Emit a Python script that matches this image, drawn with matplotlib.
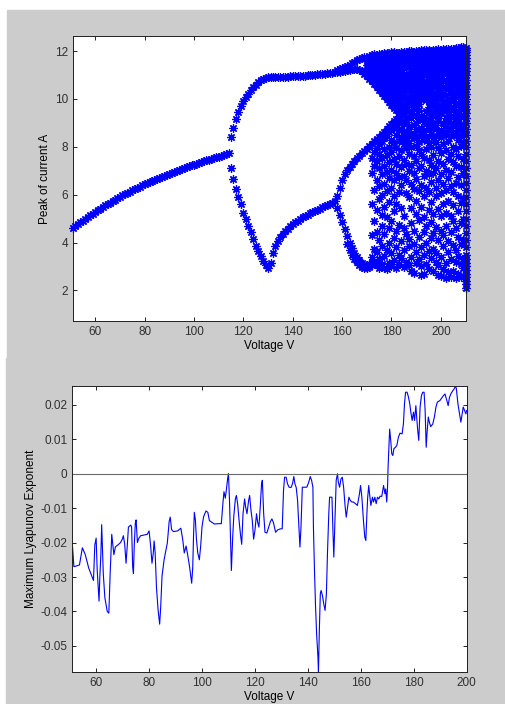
import numpy as np #arrays
import matplotlib.pyplot as plt #plotting
from matplotlib.patches import Rectangle

plt.rcParams['font.family'] = ['Liberation Sans', 'DejaVu Sans']
plt.rcParams['axes.unicode_minus'] = False

# ---- bifurcation diagram: peak current vs voltage ----
# period-1 branch
p1_v = np.arange(51, 115)
p1_i = [4.61, 4.69, 4.77, 4.85, 4.92, 5.00, 5.07, 5.14, 5.21, 5.28,
        5.35, 5.42, 5.48, 5.55, 5.61, 5.67, 5.73, 5.79, 5.85, 5.91,
        5.97, 6.02, 6.08, 6.13, 6.18, 6.24, 6.29, 6.34, 6.39, 6.44,
        6.49, 6.53, 6.58, 6.62, 6.67, 6.71, 6.75, 6.80, 6.84, 6.88,
        6.92, 6.96, 7.00, 7.04, 7.08, 7.11, 7.15, 7.19, 7.22, 7.26,
        7.29, 7.33, 7.36, 7.40, 7.43, 7.46, 7.50, 7.53, 7.56, 7.59,
        7.62, 7.66, 7.70, 7.76]

# period-2, upper and lower branches
p2_v = np.arange(115, 158)
p2_hi = [8.41, 8.80, 9.15, 9.45, 9.70, 9.93, 10.08, 10.22, 10.36, 10.48,
         10.60, 10.70, 10.78, 10.84, 10.88, 10.90, 10.90, 10.90, 10.91, 10.91,
         10.92, 10.92, 10.93, 10.93, 10.94, 10.94, 10.95, 10.96, 10.96, 10.97,
         10.98, 10.99, 11.00, 11.01, 11.02, 11.03, 11.04, 11.05, 11.06, 11.07,
         11.08, 11.10, 11.12]
p2_lo = [7.12, 6.65, 6.25, 5.90, 5.60, 5.25, 4.97, 4.70, 4.42, 4.14,
         3.87, 3.63, 3.42, 3.22, 3.05, 2.95, 3.15, 3.55, 3.85, 4.05,
         4.22, 4.36, 4.48, 4.58, 4.68, 4.77, 4.85, 4.92, 4.99, 5.05,
         5.11, 5.17, 5.22, 5.27, 5.32, 5.37, 5.42, 5.47, 5.52, 5.57,
         5.62, 5.67, 5.73]

# period-4 region
top_v = np.arange(158, 170)
top_i = [11.20, 11.24, 11.28, 11.33, 11.38, 11.44, 11.50, 11.56, 11.62, 11.67,
         11.72, 11.76]
fall_v = np.arange(158, 184)
fall_i = [11.12, 11.14, 11.16, 11.18, 11.20, 11.22, 11.24, 11.25, 11.25, 11.22,
          11.15, 11.05, 10.95, 10.85, 10.75, 10.62, 10.50, 10.38, 10.25, 10.12,
          10.00, 9.88, 9.76, 9.64, 9.52, 9.40]
rise_v = np.arange(158, 184)
rise_i = [5.95, 6.30, 6.60, 6.85, 7.02, 7.17, 7.30, 7.42, 7.53, 7.63,
          7.73, 7.83, 7.93, 8.03, 8.13, 8.23, 8.33, 8.43, 8.53, 8.63,
          8.74, 8.85, 8.96, 9.07, 9.18, 9.30]
dip_v = np.arange(158, 173)
dip_i = [5.45, 5.15, 4.85, 4.55, 4.27, 4.00, 3.78, 3.57, 3.40, 3.25,
         3.13, 3.06, 3.05, 3.10, 3.20]
dip2_v = np.arange(162, 174)
dip2_i = [3.95, 3.70, 3.50, 3.32, 3.17, 3.05, 2.97, 2.93, 2.93, 2.97,
          3.05, 3.15]

# chaotic band, one list of peaks per voltage
chaos_v = list(range(170, 210))
chaos_hi = [
    [11.12, 11.28, 11.42, 11.58, 11.72],
    [11.0, 11.18, 11.33, 11.5, 11.64, 11.78],
    [10.9, 11.05, 11.22, 11.4, 11.55, 11.7, 11.82],
    [10.78, 10.95, 11.12, 11.3, 11.46, 11.62, 11.76, 11.86],
    [10.66, 10.85, 11.0, 11.2, 11.38, 11.55, 11.7, 11.84],
    [10.55, 10.72, 10.92, 11.1, 11.28, 11.48, 11.64, 11.8, 11.9],
    [10.42, 10.6, 10.8, 11.02, 11.18, 11.4, 11.58, 11.74, 11.88],
    [10.3, 10.5, 10.68, 10.9, 11.1, 11.3, 11.52, 11.7, 11.85, 11.93],
    [10.18, 10.38, 10.6, 10.8, 11.0, 11.22, 11.45, 11.62, 11.8, 11.92],
    [10.05, 10.25, 10.48, 10.7, 10.92, 11.15, 11.38, 11.58, 11.76, 11.9],
    [9.92, 10.12, 10.35, 10.6, 10.82, 11.05, 11.3, 11.52, 11.72, 11.88, 11.96],
    [9.8, 10.02, 10.25, 10.5, 10.72, 10.98, 11.22, 11.45, 11.66, 11.84, 11.95],
    [9.68, 9.9, 10.15, 10.4, 10.65, 10.9, 11.15, 11.4, 11.62, 11.8, 11.94],
    [9.55, 9.78, 10.02, 10.28, 10.55, 10.8, 11.08, 11.32, 11.56, 11.76, 11.92],
    [8.75, 9.1, 9.45, 9.7, 10.05, 10.3, 10.7, 10.95, 11.2, 11.5, 11.7, 11.85, 11.97],
    [8.6, 8.95, 9.35, 9.8, 10.15, 10.45, 10.6, 10.9, 11.3, 11.55, 11.78, 11.95],
    [8.5, 9.05, 9.25, 9.6, 9.95, 10.35, 10.8, 11.05, 11.4, 11.62, 11.84, 11.98],
    [8.65, 8.85, 9.5, 9.75, 10.1, 10.5, 10.65, 10.95, 11.45, 11.7, 11.88, 12.0],
    [8.45, 9.2, 9.4, 9.9, 10.25, 10.4, 10.75, 11.1, 11.25, 11.5, 11.75, 11.9, 12.02],
    [8.55, 8.9, 9.6, 9.85, 10.2, 10.55, 10.85, 11.15, 11.35, 11.6, 11.8, 11.95],
    [8.35, 8.75, 9.0, 9.35, 9.7, 10.05, 10.45, 10.7, 11.0, 11.2, 11.45, 11.68, 11.9, 12.02],
    [8.7, 9.15, 9.55, 9.8, 10.15, 10.35, 10.8, 10.95, 11.3, 11.55, 11.72, 11.88, 12.0],
    [8.5, 8.8, 9.3, 10.0, 10.25, 10.6, 10.9, 11.1, 11.4, 11.62, 11.8, 11.93, 12.04],
    [8.6, 9.05, 9.25, 10.05, 10.4, 10.65, 11.0, 11.25, 11.5, 11.75, 11.9, 12.05],
    [8.4, 8.95, 9.5, 9.95, 10.2, 10.55, 10.75, 11.05, 11.35, 11.6, 11.78, 11.94, 12.06],
    [8.75, 9.1, 9.4, 9.65, 9.9, 10.3, 10.5, 10.85, 11.15, 11.45, 11.65, 11.85, 12.05],
    [8.55, 9.2, 9.45, 9.8, 10.1, 10.4, 10.7, 11.0, 11.2, 11.5, 11.7, 11.88, 12.02],
    [8.8, 9.0, 9.35, 9.7, 10.05, 10.25, 10.6, 10.9, 11.1, 11.4, 11.62, 11.82, 11.96, 12.06],
    [8.45, 8.9, 9.55, 9.85, 10.2, 10.5, 10.8, 11.05, 11.3, 11.55, 11.75, 11.92, 12.04],
    [8.65, 9.1, 9.3, 9.65, 10.0, 10.35, 10.55, 10.95, 11.25, 11.48, 11.7, 11.88, 12.08],
    [8.4, 8.7, 9.4, 9.75, 10.1, 10.3, 10.65, 10.85, 11.15, 11.45, 11.68, 11.9, 12.06],
    [8.6, 9.0, 9.6, 9.9, 10.2, 10.5, 10.75, 11.1, 11.35, 11.6, 11.82, 11.98, 12.08],
    [8.5, 8.85, 9.2, 9.5, 9.8, 10.15, 10.45, 10.8, 11.05, 11.3, 11.55, 11.78, 11.96, 12.08],
    [8.7, 9.05, 9.35, 9.7, 10.0, 10.4, 10.6, 10.95, 11.2, 11.45, 11.66, 11.86, 12.02, 12.1],
    [8.45, 8.8, 9.25, 9.55, 9.9, 10.25, 10.5, 10.85, 11.1, 11.38, 11.6, 11.8, 11.96, 12.08],
    [8.6, 9.0, 9.3, 9.65, 10.05, 10.3, 10.7, 11.0, 11.25, 11.5, 11.7, 11.86, 11.98, 12.1],
    [8.5, 8.9, 9.15, 9.5, 9.85, 10.2, 10.55, 10.8, 11.15, 11.4, 11.58, 11.74, 11.88, 12.0, 12.12],
    [8.7, 9.05, 9.4, 9.75, 10.1, 10.35, 10.65, 10.95, 11.25, 11.48, 11.64, 11.8, 11.94, 12.06, 12.14],
    [8.45, 8.85, 9.25, 9.6, 9.9, 10.2, 10.5, 10.85, 11.1, 11.4, 11.56, 11.72, 11.86, 11.98, 12.08, 12.16],
    [8.6, 8.95, 9.3, 9.7, 10.05, 10.4, 10.7, 11.0, 11.25, 11.44, 11.6, 11.74, 11.88, 12.0, 12.1, 12.18],
]
chaos_lo = [
    [],
    [],
    [3.4, 4.3, 5.6, 6.9, 7.55],
    [3.2, 3.75, 4.9, 6.2, 7.2, 7.8],
    [3.05, 3.6, 4.45, 5.35, 6.6, 7.4, 7.95],
    [2.95, 3.3, 4.1, 5.8, 6.35, 7.1, 7.7, 8.1],
    [3.1, 3.85, 4.7, 5.15, 6.0, 6.85, 7.55, 8.25],
    [2.92, 3.45, 4.35, 5.5, 6.45, 7.2, 7.9, 8.35],
    [2.88, 3.7, 5.05, 6.15, 6.95, 7.65, 8.45],
    [3.15, 4.0, 4.6, 5.7, 6.7, 7.35, 8.0, 8.6],
    [3.0, 3.55, 4.9, 6.3, 7.05, 7.8, 8.3, 8.7],
    [3.25, 4.2, 5.3, 5.95, 6.6, 7.5, 8.15, 8.8],
    [2.95, 3.8, 4.5, 5.6, 6.9, 7.3, 7.95, 8.5, 8.9],
    [3.1, 3.5, 4.75, 6.1, 6.75, 7.6, 8.25, 8.7, 9.05],
    [3.35, 4.05, 5.45, 6.4, 7.15, 7.85, 8.4],
    [2.98, 3.7, 4.6, 5.1, 6.8, 7.45, 8.1],
    [3.2, 4.35, 6.05, 6.6, 7.3, 7.95, 8.3],
    [3.05, 3.85, 4.15, 5.9, 7.0, 7.7, 8.15],
    [2.8, 3.4, 4.8, 5.45, 6.45, 7.25, 8.0],
    [2.72, 3.95, 4.5, 6.25, 6.9, 7.6, 8.35],
    [3.15, 3.6, 5.2, 5.75, 6.65, 7.4, 8.05],
    [3.3, 4.25, 4.95, 6.15, 7.1, 7.85, 8.2],
    [2.65, 3.0, 3.8, 5.5, 6.4, 7.2, 7.7],
    [2.7, 3.5, 4.45, 5.05, 5.95, 6.8, 7.55, 8.3],
    [3.1, 4.0, 4.7, 6.3, 7.0, 7.9],
    [2.9, 3.65, 5.35, 6.1, 6.85, 7.45, 8.15],
    [3.35, 4.2, 4.85, 5.7, 6.55, 7.25, 8.0],
    [2.8, 3.75, 4.4, 5.2, 6.9, 7.65, 8.35],
    [3.2, 3.55, 4.65, 5.95, 6.3, 7.1, 8.2],
    [2.65, 3.05, 4.1, 5.4, 6.6, 7.4, 7.95],
    [2.62, 3.4, 4.5, 5.1, 6.05, 6.85, 7.75],
    [2.9, 3.85, 4.3, 5.6, 6.45, 7.3, 8.1],
    [2.5, 3.15, 4.7, 5.25, 6.2, 7.05, 7.85],
    [2.78, 3.6, 4.05, 5.75, 6.7, 7.5, 8.25],
    [2.55, 3.3, 4.45, 5.1, 6.35, 6.95, 7.7],
    [2.82, 3.9, 4.9, 5.55, 6.1, 7.35, 8.0],
    [2.5, 3.2, 3.7, 4.6, 6.5, 7.2, 7.9],
    [2.7, 3.45, 4.25, 5.3, 5.95, 6.75, 7.6, 8.3],
    [2.58, 3.1, 3.95, 4.8, 5.65, 6.4, 7.15, 8.05],
    [2.6, 2.95, 3.3, 4.1, 5.0, 5.85, 6.9, 7.5, 8.2],
]
# last voltage step
edge_v = 210
edge_i = [2.1, 2.25, 2.4, 2.55, 2.7, 2.85, 3.0, 3.15, 3.3, 3.5, 3.8, 4.1, 4.4,
          4.7, 5.0, 5.3, 5.6, 5.9, 6.2, 6.5, 6.8, 7.1, 7.4, 7.7, 8.0, 8.25,
          8.5, 8.75, 9.0, 9.2, 9.4, 9.6, 9.8, 10.0, 10.2, 10.4, 10.6, 10.8,
          11.0, 11.15, 11.3, 11.45, 11.6, 11.72, 11.84, 11.95, 12.05, 12.15]

# ---- maximum Lyapunov exponent vs voltage ----
lyap_v = [51.1, 51.6, 53.7, 54.8, 55.9, 57.2, 59.0, 59.5, 60.0, 60.4, 60.9, 61.1,
          61.4, 61.8, 62.1, 62.7, 63.3, 64.2, 64.8, 65.3, 65.9, 66.7, 67.3, 68.2,
          69.2, 69.9, 70.3, 70.8, 71.3, 71.8, 72.2, 73.1, 73.4, 73.8, 74.1, 74.4,
          74.8, 75.1, 75.6, 76.1, 76.8, 78.1, 79.3, 80.0, 80.6, 81.1, 81.6, 81.9,
          82.3, 82.8, 83.4, 84.0, 84.4, 84.9, 85.7, 86.9, 87.6, 88.0, 88.5, 89.2,
          90.8, 92.0, 92.7, 93.3, 94.0, 94.6, 95.3, 96.1, 96.5, 96.8, 97.1, 97.5,
          97.9, 98.4, 99.0, 99.5, 100.0, 100.6, 101.5, 102.2, 102.8, 104.7, 106.0,
          107.3, 107.9, 108.3, 108.8, 109.2, 109.7, 110.0, 110.4, 110.8, 111.1,
          111.6, 112.0, 112.6, 113.0, 113.5, 114.0, 114.5, 115.0, 115.5, 116.1,
          116.5, 117.0, 117.6, 118.0, 118.5, 119.0, 119.5, 120.0, 120.6, 121.0,
          121.5, 122.0, 122.5, 122.8, 123.3, 123.8, 124.5, 125.2, 125.8, 126.4,
          127.0, 127.8, 128.6, 129.6, 130.3, 130.8, 131.2, 131.8, 132.3, 132.9,
          133.6, 134.2, 134.7, 135.1, 135.6, 136.1, 136.6, 137.0, 137.4, 137.9,
          138.4, 139.6, 140.3, 140.9, 141.4, 141.9, 142.1, 142.5, 142.9, 143.3,
          143.8, 144.0, 144.3, 144.7, 145.0, 145.5, 146.0, 146.5, 147.0, 147.4,
          147.9, 148.2, 149.1, 149.5, 149.8, 150.3, 150.7, 151.2, 151.5, 152.0,
          152.5, 153.0, 153.5, 154.1, 154.5, 155.0, 155.5, 156.0, 156.6, 157.2,
          158.0, 158.7, 159.5, 159.9, 160.4, 161.0, 161.5, 161.9, 162.3, 162.6,
          163.0, 163.3, 163.8, 164.4, 164.8, 165.3, 165.8, 166.3, 166.8, 167.3,
          167.9, 168.6, 169.1, 169.4, 169.8, 170.1, 170.3, 170.7, 170.9, 171.3,
          171.7, 172.1, 172.5, 173.1, 173.6, 174.2, 174.8, 175.6, 176.1, 176.5,
          176.9, 177.5, 178.0, 178.5, 178.9, 179.4, 179.9, 180.3, 180.8, 181.1,
          181.5, 181.9, 182.4, 182.9, 183.4, 183.9, 184.3, 184.7, 185.0, 185.5,
          185.9, 186.4, 187.2, 187.8, 188.4, 188.9, 189.9, 191.2, 191.8, 192.5,
          193.0, 193.5, 194.0, 194.8, 195.3, 195.8, 196.1, 196.7, 197.3, 197.8,
          198.2, 198.7, 199.2, 199.7, 200.0]
lyap = [-0.0214, -0.0270, -0.0265, -0.0215, -0.0235, -0.0274, -0.0310, -0.0207,
        -0.0187, -0.0279, -0.0341, -0.0370, -0.0300, -0.0232, -0.0148, -0.0290,
        -0.0360, -0.0400, -0.0405, -0.0290, -0.0176, -0.0235, -0.0212, -0.0207,
        -0.0200, -0.0190, -0.0180, -0.0205, -0.0260, -0.0205, -0.0155, -0.0149,
        -0.0155, -0.0270, -0.0290, -0.0210, -0.0144, -0.0134, -0.0200, -0.0188,
        -0.0180, -0.0178, -0.0176, -0.0166, -0.0210, -0.0260, -0.0230, -0.0195,
        -0.0230, -0.0330, -0.0395, -0.0437, -0.0386, -0.0297, -0.0249, -0.0201,
        -0.0138, -0.0126, -0.0162, -0.0168, -0.0166, -0.0158, -0.0190, -0.0230,
        -0.0210, -0.0236, -0.0270, -0.0318, -0.0272, -0.0180, -0.0112, -0.0134,
        -0.0190, -0.0230, -0.0250, -0.0210, -0.0154, -0.0125, -0.0108, -0.0112,
        -0.0136, -0.0146, -0.0145, -0.0145, -0.0086, -0.0052, -0.0071, -0.0047,
        -0.0013, 0.0000, -0.0080, -0.0200, -0.0281, -0.0184, -0.0125, -0.0073,
        -0.0063, -0.0090, -0.0135, -0.0174, -0.0205, -0.0116, -0.0073, -0.0097,
        -0.0116, -0.0078, -0.0063, -0.0106, -0.0136, -0.0190, -0.0165, -0.0116,
        -0.0140, -0.0155, -0.0097, -0.0029, -0.0019, -0.0116, -0.0170, -0.0172,
        -0.0155, -0.0140, -0.0131, -0.0142, -0.0170, -0.0163, -0.0160, -0.0160,
        -0.0048, -0.0010, -0.0010, -0.0029, -0.0039, -0.0040, -0.0029, -0.0008,
        -0.0029, -0.0040, -0.0077, -0.0155, -0.0213, -0.0155, -0.0039, -0.0039,
        -0.0039, -0.0025, -0.0008, -0.0019, -0.0039, -0.0155, -0.0281, -0.0387,
        -0.0465, -0.0532, -0.0576, -0.0465, -0.0349, -0.0339, -0.0354, -0.0378,
        -0.0397, -0.0349, -0.0232, -0.0116, -0.0068, -0.0068, -0.0174, -0.0242,
        -0.0116, -0.0019, 0.0000, -0.0024, -0.0039, -0.0015, -0.0010, -0.0039,
        -0.0097, -0.0126, -0.0097, -0.0068, -0.0077, -0.0082, -0.0082, -0.0087,
        -0.0092, -0.0058, -0.0034, -0.0068, -0.0136, -0.0184, -0.0194, -0.0116,
        -0.0068, -0.0034, -0.0058, -0.0092, -0.0068, -0.0082, -0.0068, -0.0087,
        -0.0068, -0.0073, -0.0065, -0.0066, -0.0034, -0.0058, -0.0044, -0.0082,
        -0.0039, 0.0019, 0.0097, 0.0130, 0.0097, 0.0058, 0.0053, 0.0073,
        0.0077, 0.0082, 0.0106, 0.0118, 0.0116, 0.0145, 0.0203, 0.0237,
        0.0237, 0.0223, 0.0203, 0.0179, 0.0155, 0.0179, 0.0155, 0.0198,
        0.0165, 0.0126, 0.0097, 0.0194, 0.0227, 0.0237, 0.0237, 0.0184,
        0.0077, 0.0116, 0.0165, 0.0150, 0.0137, 0.0145, 0.0165, 0.0194,
        0.0208, 0.0213, 0.0227, 0.0232, 0.0213, 0.0198, 0.0222, 0.0232,
        0.0242, 0.0247, 0.0256, 0.0247, 0.0203, 0.0174, 0.0150, 0.0170,
        0.0194, 0.0184, 0.0174, 0.0184]

volt_ticks = [60, 80, 100, 120, 140, 160, 180, 200]
peak_ticks = [2, 4, 6, 8, 10, 12]
lyap_ticks = [-0.05, -0.04, -0.03, -0.02, -0.01, 0, 0.01, 0.02]
lyap_labels = ['-0.05', '-0.04', '-0.03', '-0.02', '-0.01', '0', '0.01', '0.02']

GRAY = '#cccccc'


def style_axes(ax): #matlab-like box with inward ticks
    ax.tick_params(direction='in', top=True, right=True, length=3, width=0.6,
                   labelsize=8.5, pad=3.5, labelcolor='#303030')
    for s in ax.spines.values():
        s.set_linewidth(0.7)
        s.set_color('#202020')


def stars(ax, v, i): #asterisk markers like plot(...,'*')
    ax.plot(v, i, linestyle='none', marker=(8, 2, 0), markersize=6,
            markeredgecolor='blue', markeredgewidth=0.9, clip_on=False)


fig = plt.figure(figsize=(5.06, 7.04), dpi=100, facecolor='white')
# gray panels behind each axes
fig.add_artist(Rectangle((7 / 506, 346 / 704), 499 / 506, 348 / 704,
                         transform=fig.transFigure, color=GRAY, zorder=0))
fig.add_artist(Rectangle((6 / 506, 0), 500 / 506, 346 / 704,
                         transform=fig.transFigure, color=GRAY, zorder=0))

ax1 = fig.add_axes([0.1443, 0.5440, 0.7767, 0.4048])
stars(ax1, p1_v, p1_i)
stars(ax1, p2_v, p2_hi)
stars(ax1, p2_v, p2_lo)
stars(ax1, top_v, top_i)
stars(ax1, fall_v, fall_i)
stars(ax1, rise_v, rise_i)
stars(ax1, dip_v, dip_i)
stars(ax1, dip2_v, dip2_i)
cx, cy = [], []
for v, hi, lo in zip(chaos_v, chaos_hi, chaos_lo):
    cx += [v] * (len(hi) + len(lo))
    cy += hi + lo
cx += [edge_v] * len(edge_i)
cy += edge_i
stars(ax1, cx, cy)
ax1.set_xlim(51, 210.2)
ax1.set_ylim(0.72, 12.63)
ax1.set_xticks(volt_ticks)
ax1.set_yticks(peak_ticks)
ax1.set_xlabel('Voltage V', fontsize=8.5, labelpad=1.5)
ax1.set_ylabel('Peak of current A', fontsize=8.5, labelpad=2.5)
style_axes(ax1)

ax2 = fig.add_axes([0.1429, 0.04545, 0.7794, 0.4067])
ax2.plot(lyap_v, lyap, color='blue', linewidth=0.8)
ax2.axhline(0, color='#6a6a6a', linewidth=0.8)
ax2.set_xlim(51, 200)
ax2.set_ylim(min(lyap), max(lyap))
ax2.set_xticks(volt_ticks)
ax2.set_yticks(lyap_ticks)
ax2.set_yticklabels(lyap_labels)
ax2.set_xlabel('Voltage V', fontsize=8.5, labelpad=1.5)
ax2.set_ylabel('Maximum Lyapunov Exponent', fontsize=8.5, labelpad=2.5)
style_axes(ax2)

fig.savefig('out.png', dpi=100, facecolor=fig.get_facecolor())
